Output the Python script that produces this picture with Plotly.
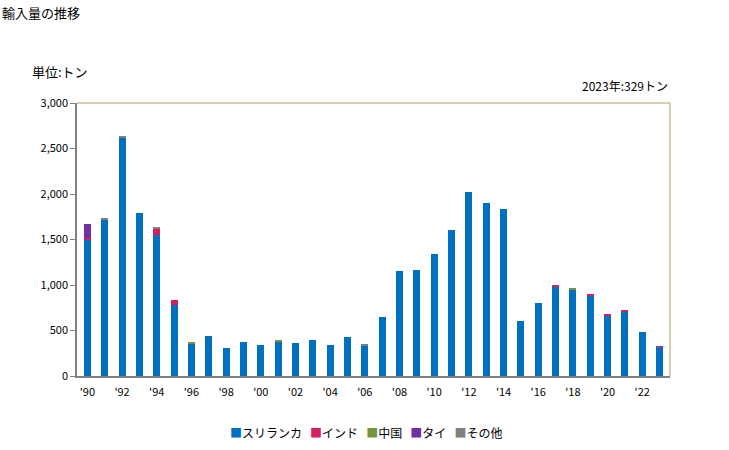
import plotly.graph_objects as go

years = list(range(1990, 2024))
srilanka = [1505, 1715, 2620, 1795, 1545, 780, 362, 440, 308, 374, 341, 375, 363, 396, 341, 429, 340, 649,
            1158, 1169, 1346, 1599, 2017, 1896, 1830, 605, 803, 979, 949, 883, 663, 707, 484, 319]
india = [15, 0, 0, 0, 65, 55, 0, 0, 0, 0, 0, 0, 0, 0, 0, 0, 0, 0,
         0, 0, 0, 0, 0, 0, 0, 0, 0, 11, 0, 12, 8, 8, 0, 10]
china = [0, 0, 0, 0, 0, 0, 12, 0, 0, 0, 0, 10, 0, 0, 0, 0, 0, 0,
         0, 0, 0, 0, 0, 0, 0, 0, 0, 0, 8, 0, 0, 0, 0, 0]
thai = [152, 0, 0, 0, 0, 0, 0, 0, 0, 0, 0, 0, 0, 0, 0, 0, 0, 0,
        0, 0, 0, 0, 0, 0, 0, 0, 0, 0, 0, 0, 0, 0, 0, 0]
other = [0, 22, 20, 0, 30, 0, 0, 0, 0, 0, 0, 0, 0, 0, 0, 0, 12, 0,
         0, 0, 0, 0, 0, 0, 0, 0, 0, 0, 0, 0, 0, 0, 0, 0]

series = [
    ("スリランカ", srilanka, "#0070C0"),
    ("インド", india, "#D4205E"),
    ("中国", china, "#77933C"),
    ("タイ", thai, "#7030A0"),
    ("その他", other, "#808080"),
]

tick_years = list(range(1990, 2024, 2))
tick_text = ["'" + str(y)[2:] for y in tick_years]

font = "Noto Sans CJK JP, sans-serif"

fig = go.Figure()
for name, vals, color in series:
    fig.add_trace(go.Bar(x=years, y=vals, name=name, marker=dict(color=color, line=dict(width=0)),
                         showlegend=False))

legend_text = "\u00a0\u00a0\u00a0".join(
    f"<span style='color:{c}'>■</span>{n}" for n, _, c in series
)

fig.update_layout(
    width=729, height=450,
    barmode="stack", bargap=0.6,
    margin=dict(l=77, r=59, t=103, b=74, autoexpand=False),
    paper_bgcolor="white", plot_bgcolor="white",
    font=dict(family=font, size=11, color="#000000"),
    showlegend=False,
    xaxis=dict(range=[1989.4, 2023.6], tickmode="array", tickvals=tick_years, ticktext=tick_text,
               showline=True, linecolor="#808080", linewidth=1.5, ticks="", showgrid=False,
               tickfont=dict(size=11), zeroline=False, ticklabelstandoff=5),
    yaxis=dict(range=[0, 3000], tickmode="array", tickvals=[0, 500, 1000, 1500, 2000, 2500, 3000],
               tickformat=",d", showline=True, linecolor="#808080", linewidth=1.5,
               ticks="outside", ticklen=5, tickcolor="#808080", showgrid=False, zeroline=False,
               tickfont=dict(size=11)),
    shapes=[
        dict(type="line", xref="paper", yref="paper", x0=0, x1=1, y0=1, y1=1,
             line=dict(color="#C4BD97", width=1.5)),
        dict(type="line", xref="paper", yref="paper", x0=1, x1=1, y0=0, y1=1,
             line=dict(color="#C4BD97", width=1.5)),
    ],
    annotations=[
        dict(text="輸入量の推移", xref="paper", yref="paper", x=-77/593, y=1 + 91/273,
             xanchor="left", yanchor="middle", showarrow=False, font=dict(size=13)),
        dict(text="単位:トン", xref="paper", yref="paper", x=-47/593, y=1 + 31/273,
             xanchor="left", yanchor="middle", showarrow=False, font=dict(size=13)),
        dict(text="2023年:329トン", xref="paper", yref="paper", x=1, y=1 + 18/273,
             xanchor="right", yanchor="middle", showarrow=False, font=dict(size=12)),
        dict(text=legend_text, xref="paper", yref="paper", x=(366 - 77) / 593, y=-56/273,
             xanchor="center", yanchor="middle", showarrow=False, font=dict(size=12)),
    ],
)

fig.write_html("out.html")
